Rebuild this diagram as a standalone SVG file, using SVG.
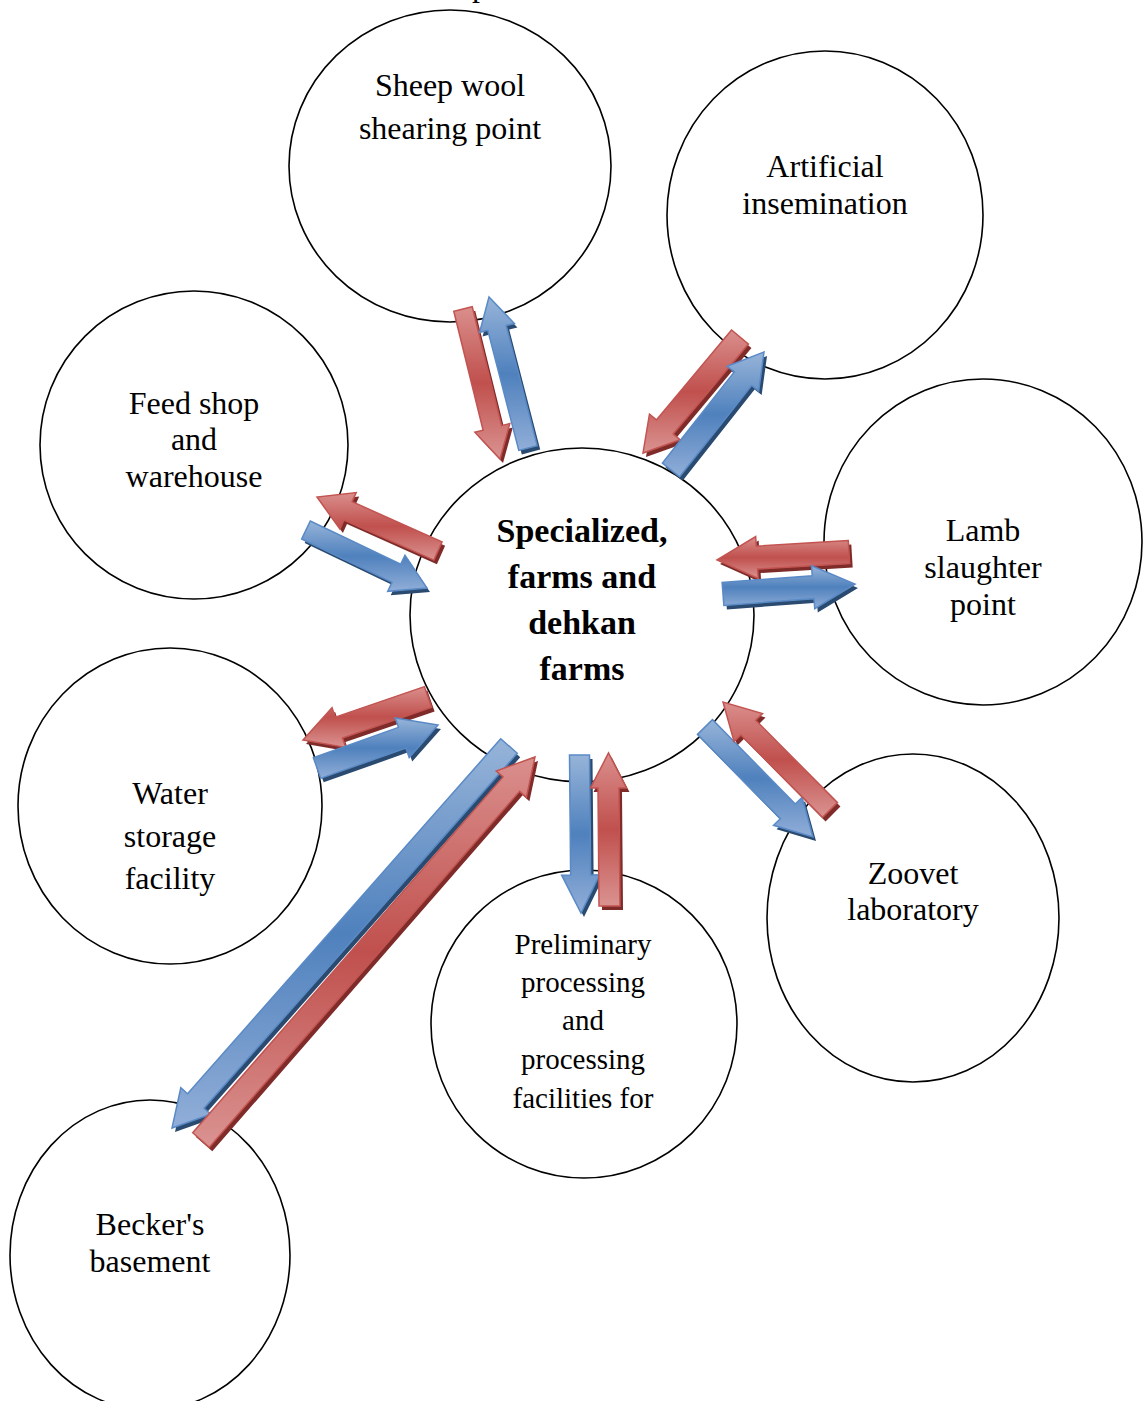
<svg xmlns="http://www.w3.org/2000/svg" width="1144" height="1401" viewBox="0 0 1144 1401">
<style>
.node{fill:#fff;stroke:#000;stroke-width:1.6}
.t{font-family:"Liberation Serif","Times New Roman",serif;font-size:32px;fill:#000;text-anchor:middle}
.sm{font-size:29px}
.b{font-weight:bold;font-size:34px}
.rs{fill:#7E2B29}
.bs{fill:#2A4A70}
.r{fill:url(#gr);stroke:#C25451;stroke-width:1.5;stroke-linejoin:miter}
.bl{fill:url(#gb);stroke:#5A8AC6;stroke-width:1.5;stroke-linejoin:miter}
</style>
<defs>
<linearGradient id="gr" x1="0" y1="0" x2="0" y2="1">
<stop offset="0" stop-color="#DA8F8D"/>
<stop offset="0.5" stop-color="#C0504D"/>
<stop offset="1" stop-color="#DA9391"/>
</linearGradient>
<linearGradient id="gb" x1="0" y1="0" x2="0" y2="1">
<stop offset="0" stop-color="#97B4D9"/>
<stop offset="0.5" stop-color="#4F81BD"/>
<stop offset="1" stop-color="#91AED8"/>
</linearGradient>
</defs>
<rect width="1144" height="1401" fill="#fff"/>
<text class="t" x="472" y="-4" style="text-anchor:start">p</text>

<g id="n-sheep"><ellipse class="node" cx="450" cy="166" rx="161" ry="156"/>
<text class="t" x="450" y="96">Sheep wool</text><text class="t" x="450" y="139">shearing point</text></g>
<g id="n-artificial"><ellipse class="node" cx="825" cy="215" rx="158" ry="164"/>
<text class="t" x="825" y="177">Artificial</text><text class="t" x="825" y="214">insemination</text></g>
<g id="n-feed"><ellipse class="node" cx="194" cy="445" rx="154" ry="154"/>
<text class="t" x="194" y="414">Feed shop</text><text class="t" x="194" y="450">and</text><text class="t" x="194" y="487">warehouse</text></g>
<g id="n-center"><ellipse class="node" cx="582" cy="615" rx="172" ry="167"/>
<text class="t b" x="582" y="542">Specialized,</text><text class="t b" x="582" y="588">farms and</text><text class="t b" x="582" y="634">dehkan</text><text class="t b" x="582" y="680">farms</text></g>
<g id="n-lamb"><ellipse class="node" cx="983" cy="542" rx="159" ry="163"/>
<text class="t" x="983" y="541">Lamb</text><text class="t" x="983" y="578">slaughter</text><text class="t" x="983" y="615">point</text></g>
<g id="n-water"><ellipse class="node" cx="170" cy="806" rx="152" ry="158"/>
<text class="t" x="170" y="804">Water</text><text class="t" x="170" y="847">storage</text><text class="t" x="170" y="889">facility</text></g>
<g id="n-prelim"><ellipse class="node" cx="584" cy="1024" rx="153" ry="154"/>
<text class="t sm" x="583" y="954">Preliminary</text><text class="t sm" x="583" y="992">processing</text><text class="t sm" x="583" y="1030">and</text><text class="t sm" x="583" y="1069">processing</text><text class="t sm" x="583" y="1108">facilities for</text></g>
<g id="n-zoovet"><ellipse class="node" cx="913" cy="918" rx="146" ry="164"/>
<text class="t" x="913" y="884">Zoovet</text><text class="t" x="913" y="920">laboratory</text></g>
<g id="n-becker"><ellipse class="node" cx="150" cy="1255" rx="140" ry="155"/>
<text class="t" x="150" y="1235">Becker's</text><text class="t" x="150" y="1272">basement</text></g>

<g id="connectors">
<g transform="translate(3,4)">
<polygon class="rs" points="453.78,311.28 483.12,430.21 474.86,432.24 500,459 509.82,423.62 501.56,425.65 472.22,306.72"/>
<polygon class="bs" points="537.20,445.62 506.20,325.60 514.43,323.48 489,297 479.57,332.48 487.80,330.36 518.80,450.38"/>
<polygon class="rs" points="731.56,329.94 656.37,419.86 649.47,414.09 643,453 680.15,439.75 673.25,433.98 748.44,344.06"/>
<polygon class="bs" points="679.64,476.81 751.59,385.52 758.66,391.09 764,352 727.24,366.33 734.31,371.90 662.36,463.19"/>
<polygon class="rs" points="442.08,541.87 352.13,501.73 356.20,492.60 317,497 339.90,529.12 343.97,519.99 433.92,560.13"/>
<polygon class="bs" points="301.68,539.02 392.02,582.33 387.70,591.34 427,588 404.98,555.28 400.66,564.29 310.32,520.98"/>
<polygon class="rs" points="848.30,540.52 756.24,546.10 755.67,536.61 717,560 758.21,578.55 757.64,569.06 849.70,563.48"/>
<polygon class="bs" points="723.87,605.47 813.99,598.64 814.74,608.61 855,584 811.50,565.73 812.25,575.70 722.13,582.53"/>
<polygon class="rs" points="424.40,686.60 335.31,717.15 332.03,707.70 303,740 345.79,747.40 342.51,737.95 431.60,707.40"/>
<polygon class="bs" points="320.68,778.37 405.87,748.10 409.22,757.52 438,725 395.16,717.94 398.51,727.36 313.32,757.63"/>
<polygon class="bs" points="569.5,755.1 570.64,875.1 561.64,875.2 581,913 599.64,874.8 590.64,874.9 589.5,754.9"/>
<polygon class="rs" points="620,906 619,788 626.5,788 608.5,753 590.5,788 598,788 599,906"/>
<polygon class="bs" points="697.51,734.35 780.30,818.67 773.52,825.33 813,837 802.06,797.31 795.28,803.97 712.49,719.65"/>
<polygon class="rs" points="837.46,802.61 755.80,720.19 762.55,713.50 723,702 734.13,741.66 740.88,734.97 822.54,817.39"/>
<polygon class="bs" points="500.75,738.72 187.57,1093.72 180.82,1087.77 172,1128 210.82,1114.23 204.07,1108.28 517.25,753.28"/>
<polygon class="rs" points="209.29,1147.23 519.63,791.36 526.41,797.27 535,757 496.27,770.99 503.05,776.90 192.71,1132.77"/>
</g>
<polygon class="r" points="453.78,311.28 483.12,430.21 474.86,432.24 500,459 509.82,423.62 501.56,425.65 472.22,306.72"/>
<polygon class="bl" points="537.20,445.62 506.20,325.60 514.43,323.48 489,297 479.57,332.48 487.80,330.36 518.80,450.38"/>
<polygon class="r" points="731.56,329.94 656.37,419.86 649.47,414.09 643,453 680.15,439.75 673.25,433.98 748.44,344.06"/>
<polygon class="bl" points="679.64,476.81 751.59,385.52 758.66,391.09 764,352 727.24,366.33 734.31,371.90 662.36,463.19"/>
<polygon class="r" points="442.08,541.87 352.13,501.73 356.20,492.60 317,497 339.90,529.12 343.97,519.99 433.92,560.13"/>
<polygon class="bl" points="301.68,539.02 392.02,582.33 387.70,591.34 427,588 404.98,555.28 400.66,564.29 310.32,520.98"/>
<polygon class="r" points="848.30,540.52 756.24,546.10 755.67,536.61 717,560 758.21,578.55 757.64,569.06 849.70,563.48"/>
<polygon class="bl" points="723.87,605.47 813.99,598.64 814.74,608.61 855,584 811.50,565.73 812.25,575.70 722.13,582.53"/>
<polygon class="r" points="424.40,686.60 335.31,717.15 332.03,707.70 303,740 345.79,747.40 342.51,737.95 431.60,707.40"/>
<polygon class="bl" points="320.68,778.37 405.87,748.10 409.22,757.52 438,725 395.16,717.94 398.51,727.36 313.32,757.63"/>
<polygon class="bl" points="569.5,755.1 570.64,875.1 561.64,875.2 581,913 599.64,874.8 590.64,874.9 589.5,754.9"/>
<polygon class="r" points="620,906 619,788 626.5,788 608.5,753 590.5,788 598,788 599,906"/>
<polygon class="bl" points="697.51,734.35 780.30,818.67 773.52,825.33 813,837 802.06,797.31 795.28,803.97 712.49,719.65"/>
<polygon class="r" points="837.46,802.61 755.80,720.19 762.55,713.50 723,702 734.13,741.66 740.88,734.97 822.54,817.39"/>
<polygon class="bl" points="500.75,738.72 187.57,1093.72 180.82,1087.77 172,1128 210.82,1114.23 204.07,1108.28 517.25,753.28"/>
<polygon class="r" points="209.29,1147.23 519.63,791.36 526.41,797.27 535,757 496.27,770.99 503.05,776.90 192.71,1132.77"/>
</g>
</svg>
